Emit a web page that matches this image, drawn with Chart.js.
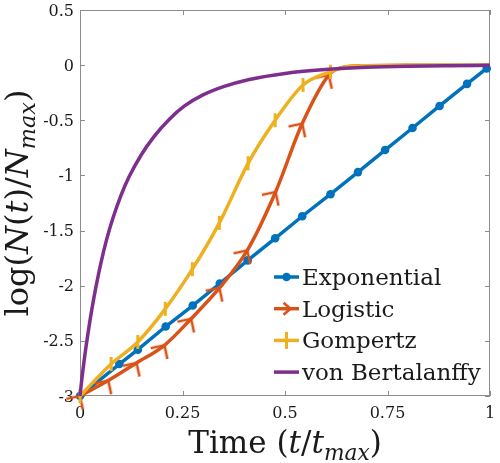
<!DOCTYPE html>
<html>
<head>
<meta charset="utf-8">
<script src="https://cdn.jsdelivr.net/npm/chart.js@4.4.0/dist/chart.umd.min.js"></script>
<style>
html, body { margin: 0; padding: 0; background: #fff; }
</style>
</head>
<body>
<canvas id="growthchart" width="500" height="463"></canvas>
<script>
// values (x = t/tmax, y = log(N/Nmax))
var expT = [0, 0.096, 0.141, 0.209, 0.275, 0.341, 0.409, 0.476, 0.542, 0.611, 0.678, 0.744, 0.811, 0.877, 0.944, 0.992];
var expY = [-3, -2.71, -2.58, -2.37, -2.18, -1.98, -1.77, -1.57, -1.37, -1.17, -0.97, -0.77, -0.57, -0.37, -0.17, -0.03];

var logT = [0, 0.069, 0.138, 0.206, 0.271, 0.34, 0.408, 0.477, 0.542, 0.607, 0.64, 0.7, 0.8, 0.9, 1.0];
var logY = [-3, -2.86, -2.70, -2.54, -2.30, -2.02, -1.68, -1.15, -0.53, -0.09, -0.02, -0.005, 0, 0, 0];

var gomT = [0, 0.076, 0.141, 0.208, 0.274, 0.34, 0.41, 0.476, 0.544, 0.611, 0.65, 0.7, 0.8, 0.9, 1.0];
var gomY = [-3, -2.71, -2.51, -2.21, -1.85, -1.43, -0.89, -0.50, -0.18, -0.06, -0.015, -0.005, 0, 0, 0];

var vbT = [0, 0.005, 0.01, 0.02, 0.03, 0.04, 0.05, 0.065, 0.08, 0.1, 0.12, 0.15, 0.18, 0.218, 0.255, 0.3, 0.35, 0.413, 0.5, 0.607, 0.7, 0.8, 0.9, 1.0];
var vbY = [-3, -2.83, -2.68, -2.42, -2.19, -1.99, -1.81, -1.58, -1.39, -1.18, -1.01, -0.81, -0.65, -0.49, -0.37, -0.27, -0.195, -0.13, -0.075, -0.038, -0.02, -0.01, -0.005, -0.002];

// number of leading points that carry a marker
var logMarks = 10;
var gomMarks = 10;

var seriesNames = ['Exponential', 'Logistic', 'Gompertz', 'von Bertalanffy'];
var seriesColors = ['#0072BD', '#D95319', '#EDB120', '#7E2F8E'];

var xTicks = [0, 0.25, 0.5, 0.75, 1];
var xTickLabels = ['0', '0.25', '0.5', '0.75', '1'];
var yTicks = [-3, -2.5, -2, -1.5, -1, -0.5, 0, 0.5];
var yTickLabels = ['-3', '-2.5', '-2', '-1.5', '-1', '-0.5', '0', '0.5'];

var serif = "'DejaVu Serif', 'Liberation Serif', serif";
var axisGray = '#8c8c8c';
var textColor = '#1a1a1a';

function pts(xs, ys) {
    var out = [];
    for (var i = 0; i < xs.length; i++) out.push({x: xs[i], y: ys[i]});
    return out;
}

// logistic marker: open chevron, tip on the point
function chevronImage(len, color) {
    var c = document.createElement('canvas');
    var s = len * 2 + 6;
    c.width = s; c.height = s;
    var g = c.getContext('2d');
    var m = s / 2;
    g.strokeStyle = color;
    g.lineWidth = 2.6;
    g.beginPath();
    g.moveTo(m - len, m);
    g.lineTo(m, m);
    g.lineTo(m, m + len);
    g.stroke();
    return c;
}
var chevron = chevronImage(14, seriesColors[1]);

// box, inward ticks and tick labels
var axesBox = {
    id: 'axesBox',
    beforeDatasetsDraw: function(chart) {
        var ctx = chart.ctx, a = chart.chartArea;
        var xs = chart.scales.x, ys = chart.scales.y;
        ctx.save();
        ctx.strokeStyle = axisGray;
        ctx.lineWidth = 1;
        ctx.strokeRect(a.left + 0.5, a.top + 0.5, a.right - a.left - 1, a.bottom - a.top - 1);
        ctx.beginPath();
        xTicks.forEach(function(v) {
            var px = Math.round(xs.getPixelForValue(v)) + 0.5;
            ctx.moveTo(px, a.bottom); ctx.lineTo(px, a.bottom - 5);
            ctx.moveTo(px, a.top); ctx.lineTo(px, a.top + 5);
        });
        yTicks.forEach(function(v) {
            var py = Math.round(ys.getPixelForValue(v)) + 0.5;
            ctx.moveTo(a.left, py); ctx.lineTo(a.left + 5, py);
            ctx.moveTo(a.right, py); ctx.lineTo(a.right - 5, py);
        });
        ctx.stroke();

        ctx.fillStyle = textColor;
        ctx.font = '16px ' + serif;
        ctx.textBaseline = 'alphabetic';
        ctx.textAlign = 'center';
        xTicks.forEach(function(v, i) {
            ctx.fillText(xTickLabels[i], xs.getPixelForValue(v), a.bottom + 22);
        });
        ctx.textAlign = 'right';
        yTicks.forEach(function(v, i) {
            ctx.fillText(yTickLabels[i], a.left - 6, ys.getPixelForValue(v) + 5.5);
        });
        ctx.restore();
    }
};

// text made of pieces: [text, italic, subscript]
function richWidth(ctx, parts, size) {
    var w = 0;
    parts.forEach(function(p) {
        var fs = p[2] ? size * 0.7 : size;
        ctx.font = (p[1] ? 'italic ' : '') + fs + 'px ' + serif;
        w += ctx.measureText(p[0]).width;
    });
    return w;
}
function drawRich(ctx, parts, size, x, y) {
    var w = richWidth(ctx, parts, size);
    var cx = x - w / 2;
    ctx.textAlign = 'left';
    ctx.textBaseline = 'alphabetic';
    parts.forEach(function(p) {
        var fs = p[2] ? size * 0.7 : size;
        ctx.font = (p[1] ? 'italic ' : '') + fs + 'px ' + serif;
        ctx.fillText(p[0], cx, p[2] ? y + size * 0.22 : y);
        cx += ctx.measureText(p[0]).width;
    });
}

var xTitle = [['Time (', false, false], ['t', true, false], ['/', false, false], ['t', true, false], ['max', true, true], [')', false, false]];
var yTitle = [['log(', false, false], ['N', true, false], ['(', false, false], ['t', true, false], [')/', false, false], ['N', true, false], ['max', true, true], [')', false, false]];

var titlesAndLegend = {
    id: 'titlesAndLegend',
    afterDraw: function(chart) {
        var ctx = chart.ctx, a = chart.chartArea;
        ctx.save();
        ctx.fillStyle = textColor;
        drawRich(ctx, xTitle, 31, (a.left + a.right) / 2, 453);
        ctx.save();
        ctx.translate(28, (a.top + a.bottom) / 2);
        ctx.rotate(-Math.PI / 2);
        drawRich(ctx, yTitle, 32, 0, 0);
        ctx.restore();

        // legend
        var lx = a.right - 216, ly = a.bottom - 119, rowH = 31.7;
        for (var i = 0; i < seriesNames.length; i++) {
            var y = ly + i * rowH;
            var col = seriesColors[i];
            var mid = lx + 12.5;
            ctx.strokeStyle = col;
            ctx.fillStyle = col;
            ctx.lineWidth = 3.5;
            ctx.beginPath();
            ctx.moveTo(lx, y); ctx.lineTo(lx + 25, y);
            ctx.stroke();
            if (i === 0) {
                ctx.beginPath();
                ctx.arc(mid, y, 4.3, 0, Math.PI * 2);
                ctx.fill();
            } else if (i === 1) {
                ctx.lineWidth = 2.6;
                ctx.beginPath();
                ctx.moveTo(mid - 3, y - 6);
                ctx.lineTo(mid + 4, y);
                ctx.lineTo(mid - 3, y + 6);
                ctx.stroke();
            } else if (i === 2) {
                ctx.lineWidth = 3;
                ctx.beginPath();
                ctx.moveTo(mid, y - 8.5); ctx.lineTo(mid, y + 8.5);
                ctx.stroke();
            }
            ctx.fillStyle = textColor;
            ctx.font = '23px ' + serif;
            ctx.textAlign = 'left';
            ctx.textBaseline = 'alphabetic';
            ctx.fillText(seriesNames[i], lx + 28, y + 8);
        }
        ctx.restore();
    }
};

var ctx = document.getElementById('growthchart').getContext('2d');
var growthchart = new Chart(ctx, {
    type: 'line',
    data: {
        datasets: [{
            label: seriesNames[0],
            data: pts(expT, expY),
            borderColor: seriesColors[0],
            backgroundColor: seriesColors[0],
            borderWidth: 3.5,
            pointStyle: 'circle',
            pointRadius: 4.3,
            pointBorderWidth: 0,
            order: 4,
            clip: false
        }, {
            label: seriesNames[1],
            data: pts(logT, logY),
            borderColor: seriesColors[1],
            backgroundColor: seriesColors[1],
            borderWidth: 3.5,
            cubicInterpolationMode: 'monotone',
            pointStyle: chevron,
            pointRotation: -12,
            pointRadius: function(c) { return c.dataIndex < logMarks ? 6 : 0; },
            order: 3,
            clip: false
        }, {
            label: seriesNames[2],
            data: pts(gomT, gomY),
            borderColor: seriesColors[2],
            backgroundColor: seriesColors[2],
            borderWidth: 3.5,
            cubicInterpolationMode: 'monotone',
            pointStyle: 'line',
            pointRotation: 90,
            pointBorderWidth: 3,
            pointRadius: function(c) { return c.dataIndex < gomMarks ? 7 : 0; },
            order: 2,
            clip: false
        }, {
            label: seriesNames[3],
            data: pts(vbT, vbY),
            borderColor: seriesColors[3],
            backgroundColor: seriesColors[3],
            borderWidth: 3.5,
            cubicInterpolationMode: 'monotone',
            pointRadius: 0,
            order: 1,
            clip: false
        }]
    },
    options: {
        responsive: false,
        animation: false,
        events: [],
        layout: { padding: { top: 10, right: 7, left: 0, bottom: 0 } },
        plugins: { legend: { display: false }, tooltip: { enabled: false } },
        scales: {
            x: {
                type: 'linear',
                min: 0,
                max: 1,
                afterFit: function(s) { s.height = 67; },
                grid: { display: false, drawTicks: false },
                border: { display: false },
                ticks: { display: false }
            },
            y: {
                type: 'linear',
                min: -3,
                max: 0.5,
                afterFit: function(s) { s.width = 80; },
                grid: { display: false, drawTicks: false },
                border: { display: false },
                ticks: { display: false }
            }
        }
    },
    plugins: [axesBox, titlesAndLegend]
});
</script>
</body>
</html>
